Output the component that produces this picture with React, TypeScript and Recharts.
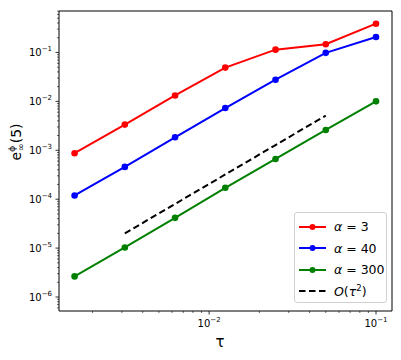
import { LineChart, Line, XAxis, YAxis, ReferenceArea, Legend, Label } from 'recharts';

const taus = [0.0015625, 0.003125, 0.00625, 0.0125, 0.025, 0.05, 0.1];
const alpha3 = [8.7e-4, 3.35e-3, 1.32e-2, 4.9e-2, 0.114, 0.147, 0.387];
const alpha40 = [1.19e-4, 4.57e-4, 1.84e-3, 7.3e-3, 2.77e-2, 9.8e-2, 0.207];
const alpha300 = [2.64e-6, 1.03e-5, 4.15e-5, 1.71e-4, 6.64e-4, 2.6e-3, 1.0e-2];
const orderRef = [null, 2.0e-5, 8.0e-5, 3.2e-4, 1.28e-3, 5.12e-3, null];

const xDomain = [0.00126, 0.1247];
const yDomain = [5.18e-7, 0.703];
const xDecades = [0.001, 0.01, 0.1];
const yDecades = [1e-7, 1e-6, 1e-5, 1e-4, 1e-3, 1e-2, 1e-1];
const mantissas = [1, 2, 3, 4, 5, 6, 7, 8, 9];

const series = [
  { key: 'a3', name: '3', color: '#ff0000' },
  { key: 'a40', name: '40', color: '#0000ff' },
  { key: 'a300', name: '300', color: '#008000' },
];

const data = taus.map((tau, i) => ({
  tau,
  a3: alpha3[i],
  a40: alpha40[i],
  a300: alpha300[i],
  ref: orderRef[i],
}));

const inRange = (v: number, d: number[]) => v >= d[0] * 0.9999 && v <= d[1] * 1.0001;
const xTicks = xDecades.flatMap((d) => mantissas.map((m) => m * d)).filter((v) => inRange(v, xDomain));
const yTicks = yDecades.flatMap((d) => mantissas.map((m) => m * d)).filter((v) => inRange(v, yDomain));

const FONT = 'DejaVu Sans, sans-serif';

const isMajor = (v: number) => {
  const l = Math.log10(v);
  return Math.abs(l - Math.round(l)) < 1e-6;
};

const Pow = ({ v }: { v: number }) => (
  <>
    10
    <tspan dy={-5} fontSize={7}>{'−' + Math.abs(Math.round(Math.log10(v)))}</tspan>
  </>
);

const XTick = (props: any) => {
  const { x, y, payload } = props;
  const major = isMajor(payload.value);
  return (
    <g>
      <line x1={x} x2={x} y1={y} y2={y + (major ? 3.5 : 2)} stroke="#000" strokeWidth={major ? 0.8 : 0.6} />
      {major && (
        <text x={x} y={y + 16} textAnchor="middle" fontSize={10} fontFamily={FONT} fill="#000">
          <Pow v={payload.value} />
        </text>
      )}
    </g>
  );
};

const YTick = (props: any) => {
  const { x, y, payload } = props;
  const major = isMajor(payload.value);
  return (
    <g>
      <line x1={x} x2={x - (major ? 3.5 : 2)} y1={y} y2={y} stroke="#000" strokeWidth={major ? 0.8 : 0.6} />
      {major && (
        <text x={x - 7} y={y + 4} textAnchor="end" fontSize={10} fontFamily={FONT} fill="#000">
          <Pow v={payload.value} />
        </text>
      )}
    </g>
  );
};

const YLabel = () => (
  <text transform="translate(21,142) rotate(-90)" textAnchor="middle" fontSize={14} fontFamily={FONT} fill="#000">
    e<tspan dy={-6} fontSize={9.5}>ϕ</tspan>
    <tspan dx={-5.5} dy={9} fontSize={9.5}>∞</tspan>
    <tspan dy={-3}>(5)</tspan>
  </text>
);

const XLabel = () => (
  <text x={220} y={347} textAnchor="middle" fontSize={15} fontFamily={FONT} fill="#000">
    τ
  </text>
);

const LegendBox = () => (
  <div
    style={{
      width: 93,
      height: 91,
      boxSizing: 'border-box',
      border: '1px solid #d0d0d0',
      borderRadius: 3,
      background: 'rgba(255,255,255,0.8)',
      fontFamily: FONT,
      fontSize: 12.5,
      padding: '3px 0 0 3px',
    }}
  >
    {series.map((s) => (
      <div key={s.key} style={{ display: 'flex', alignItems: 'center', height: 21.5 }}>
        <svg width={28} height={10}>
          <line x1={1} x2={28} y1={5} y2={5} stroke={s.color} strokeWidth={2} />
          <circle cx={14.5} cy={5} r={3} fill={s.color} />
        </svg>
        <span style={{ marginLeft: 8 }}>
          <i>α</i> = {s.name}
        </span>
      </div>
    ))}
    <div style={{ display: 'flex', alignItems: 'center', height: 21.5 }}>
      <svg width={28} height={10}>
        <line x1={1} x2={28} y1={5} y2={5} stroke="#000" strokeWidth={2} strokeDasharray="6.5 3.5" />
      </svg>
      <span style={{ marginLeft: 8 }}>
        <i>O</i>(<i>τ</i>
        <sup style={{ fontSize: 8.5 }}>2</sup>)
      </span>
    </div>
  </div>
);

export default function App() {
  return (
    <div style={{ position: 'absolute', left: 0, top: 0, width: 401, height: 360, background: '#fff' }}>
      <LineChart width={401} height={360} data={data} margin={{ top: 11, right: 9, left: 0, bottom: 0 }}>
        <XAxis
          dataKey="tau"
          type="number"
          scale="log"
          domain={xDomain}
          allowDataOverflow
          ticks={xTicks}
          interval={0}
          tick={XTick}
          tickLine={false}
          tickSize={0}
          tickMargin={0}
          axisLine={false}
          height={49}
        >
          <Label content={XLabel} />
        </XAxis>
        <YAxis
          type="number"
          scale="log"
          domain={yDomain}
          allowDataOverflow
          ticks={yTicks}
          interval={0}
          tick={YTick}
          tickLine={false}
          tickSize={0}
          tickMargin={0}
          axisLine={false}
          width={59}
        >
          <Label content={YLabel} />
        </YAxis>
        <ReferenceArea
          x1={xDomain[0]}
          x2={xDomain[1]}
          y1={yDomain[0]}
          y2={yDomain[1]}
          fill="none"
          stroke="#000"
          strokeWidth={1}
          ifOverflow="visible"
        />
        {series.map((s) => (
          <Line
            key={s.key}
            dataKey={s.key}
            stroke={s.color}
            strokeWidth={2}
            dot={{ r: 3.3, fill: s.color, stroke: s.color, strokeWidth: 0 }}
            isAnimationActive={false}
          />
        ))}
        <Line
          dataKey="ref"
          stroke="#000"
          strokeWidth={2}
          strokeDasharray="6.5 3.5"
          dot={false}
          isAnimationActive={false}
        />
        <Legend
          layout="vertical"
          align="center"
          verticalAlign="middle"
          content={LegendBox}
          wrapperStyle={{ left: 294, top: 212, width: 93, height: 91 }}
        />
      </LineChart>
    </div>
  );
}
